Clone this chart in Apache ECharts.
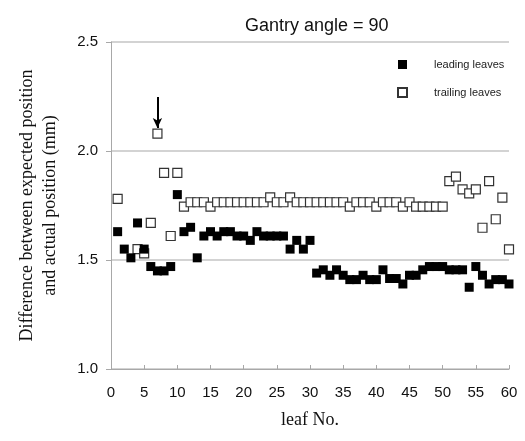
<!DOCTYPE html>
<html>
<head>
<meta charset="utf-8">
<script src="https://cdn.jsdelivr.net/npm/echarts@6/dist/echarts.min.js"></script>
<style>html,body{margin:0;padding:0;background:#fff}#c{width:525px;height:441px}</style>
</head>
<body>
<div id="c"></div>
<script>
var leafNo = [];
for (var i = 1; i <= 60; i++) leafNo.push(i);
var leading = [1.63,1.55,1.51,1.67,1.55,1.47,1.45,1.45,1.47,1.80,
               1.63,1.65,1.51,1.61,1.63,1.61,1.63,1.63,1.61,1.61,
               1.59,1.63,1.61,1.61,1.61,1.61,1.55,1.59,1.55,1.59,
               1.44,1.455,1.43,1.455,1.43,1.41,1.41,1.43,1.41,1.41,
               1.455,1.415,1.415,1.39,1.43,1.43,1.455,1.47,1.47,1.47,
               1.455,1.455,1.455,1.375,1.47,1.43,1.39,1.41,1.41,1.39];
var trailing = [1.78,null,null,1.55,1.53,1.67,2.08,1.90,1.61,1.90,
                1.745,1.765,1.765,1.765,1.745,1.765,1.765,1.765,1.765,1.765,
                1.765,1.765,1.765,1.787,1.765,1.765,1.787,1.765,1.765,1.765,
                1.765,1.765,1.765,1.765,1.765,1.745,1.765,1.765,1.765,1.745,
                1.765,1.765,1.765,1.745,1.765,1.745,1.745,1.745,1.745,1.745,
                1.862,1.882,1.824,1.806,1.824,1.648,1.862,1.687,1.786,1.549];
var yTicks = [1.0, 1.5, 2.0, 2.5];
var arrowFrom = [7, 2.248];
var arrowTo = [7, 2.105];

function pairs(vals){ return leafNo.map(function(x,i){ return [x, vals[i]]; }); }

var chart = echarts.init(document.getElementById('c'), null, {renderer:'canvas'});
chart.setOption({
  animation: false,
  backgroundColor: '#fff',
  title: {
    text: 'Gantry angle = 90', left: 240, top: 12,
    textStyle: {fontFamily: 'Liberation Sans', fontSize: 18, fontWeight: 'normal', color: '#111'}
  },
  legend: {
    orient: 'vertical', left: 397, top: 59, padding: 0, itemGap: 17,
    itemWidth: 9, itemHeight: 9,
    textStyle: {fontFamily: 'Liberation Sans', fontSize: 11, color: '#222', padding: [0,0,0,22]},
    data: ['leading leaves', 'trailing leaves']
  },
  grid: {left: 111, right: 16, top: 42, bottom: 72},
  xAxis: {
    type: 'value', min: 0, max: 60, interval: 5,
    name: 'leaf No.', nameLocation: 'middle', nameGap: 42,
    nameTextStyle: {fontFamily: 'Liberation Serif', fontSize: 18, color: '#111'},
    axisLine: {lineStyle: {color: '#a8a8a8', width: 1}},
    axisTick: {inside: true, length: 4, lineStyle: {color: '#a8a8a8'}},
    axisLabel: {fontFamily: 'Liberation Sans', fontSize: 15, color: '#111', margin: 16},
    splitLine: {show: false}
  },
  yAxis: {
    type: 'value', min: yTicks[0], max: yTicks[yTicks.length-1], interval: 0.5,
    name: 'Difference between expected position\nand actual position (mm)',
    nameLocation: 'middle', nameGap: 49, nameRotate: 90,
    nameTextStyle: {fontFamily: 'Liberation Serif', fontSize: 18, color: '#111', lineHeight: 23, align: 'center'},
    axisLine: {show: true, lineStyle: {color: '#a8a8a8', width: 1}},
    axisTick: {show: true, length: 5, lineStyle: {color: '#a8a8a8'}},
    axisLabel: {fontFamily: 'Liberation Sans', fontSize: 15, color: '#111', margin: 13,
                formatter: function(v){ return v.toFixed(1); }},
    splitLine: {show: true, lineStyle: {color: '#c4c4c4', width: 1.5}}
  },
  series: [
    {
      name: 'trailing leaves', type: 'scatter', symbol: 'rect', symbolSize: 9, z: 2,
      itemStyle: {color: '#fff', borderColor: '#333', borderWidth: 1.2, opacity: 1},
      data: pairs(trailing),
      markLine: {
        silent: true, symbol: ['none', 'arrow'], symbolSize: [7, 10],
        label: {show: false},
        lineStyle: {color: '#000', width: 2, type: 'solid'},
        data: [[{coord: arrowFrom}, {coord: arrowTo}]]
      }
    },
    {
      name: 'leading leaves', type: 'scatter', symbol: 'rect', symbolSize: 9, z: 3,
      itemStyle: {color: '#000', opacity: 1},
      data: pairs(leading)
    }
  ]
});
</script>
</body>
</html>
